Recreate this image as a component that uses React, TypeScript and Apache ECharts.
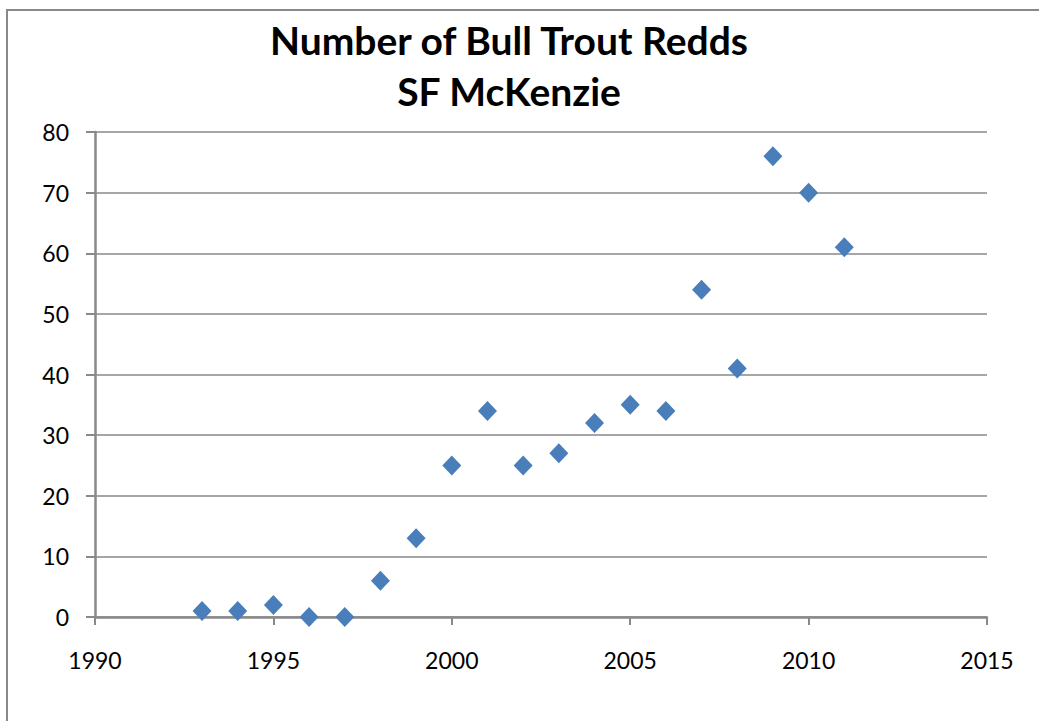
import React, { useEffect, useRef } from "react";
import * as echarts from "echarts";

const titleLines = ["Number of Bull Trout Redds", "SF McKenzie"];
const years = [1993, 1994, 1995, 1996, 1997, 1998, 1999, 2000, 2001, 2002, 2003, 2004, 2005, 2006, 2007, 2008, 2009, 2010, 2011];
const redds = [1, 1, 2, 0, 0, 6, 13, 25, 34, 25, 27, 32, 35, 34, 54, 41, 76, 70, 61];
const xRange = { min: 1990, max: 2015, interval: 5 };
const yRange = { min: 0, max: 80, interval: 10 };

export default function App() {
  const ref = useRef<HTMLDivElement>(null);
  useEffect(() => {
    if (!ref.current) return;
    const chart = echarts.init(ref.current, null, { renderer: "svg" });
    const gray = "#898989";
    const font = "Lato, 'Open Sans', sans-serif";
    chart.setOption({
      animation: false,
      backgroundColor: "#ffffff",
      title: {
        text: titleLines.join("\n"),
        left: 504,
        top: 9,
        textAlign: "center",
        textStyle: {
          fontFamily: font,
          fontWeight: "bold",
          fontSize: 39,
          lineHeight: 51,
          color: "#000",
        },
      },
      graphic: [
        {
          type: "rect",
          shape: { x: 7, y: 10, width: 1100, height: 800 },
          style: { fill: "none", stroke: gray, lineWidth: 2 },
          silent: true,
        },
      ],
      grid: { left: 95, right: 52, top: 132, bottom: 104, containLabel: false },
      xAxis: {
        type: "value",
        min: xRange.min,
        max: xRange.max,
        interval: xRange.interval,
        axisLine: { show: true, onZero: false, lineStyle: { color: gray, width: 2.5 } },
        axisTick: { show: true, length: 8, lineStyle: { color: gray, width: 2 } },
        splitLine: { show: false },
        axisLabel: {
          margin: 31,
          color: "#000",
          fontSize: 23,
          fontFamily: font,
          formatter: (v: number) => String(v),
        },
      },
      yAxis: {
        type: "value",
        min: yRange.min,
        max: yRange.max,
        interval: yRange.interval,
        axisLine: { show: true, lineStyle: { color: gray, width: 2.5 } },
        axisTick: { show: true, length: 9, lineStyle: { color: gray, width: 2 } },
        splitLine: { show: true, lineStyle: { color: gray, width: 1.7 } },
        axisLabel: {
          margin: 26,
          color: "#000",
          fontSize: 23,
          fontFamily: font,
          formatter: (v: number) => String(v),
        },
      },
      series: [
        {
          type: "scatter",
          symbol: "diamond",
          symbolSize: [19, 20],
          itemStyle: { color: "#4A7EBB", opacity: 1 },
          data: years.map((y, i) => [y, redds[i]]),
          z: 5,
        },
      ],
    });
    return () => chart.dispose();
  }, []);
  return (
    <div
      ref={ref}
      style={{ position: "fixed", left: 0, top: 0, width: 1039, height: 721, background: "#fff" }}
    />
  );
}
